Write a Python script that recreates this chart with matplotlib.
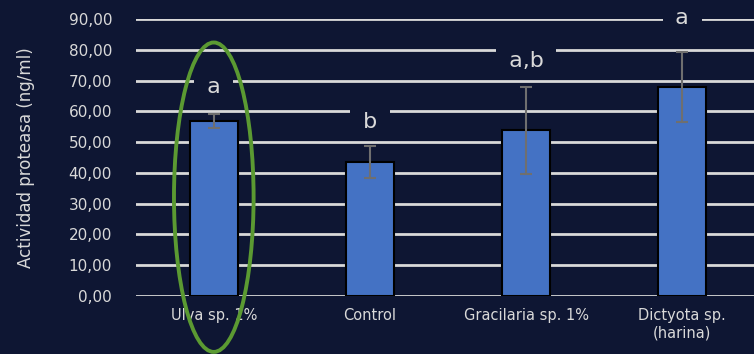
import numpy as np
import matplotlib.pyplot as plt
from matplotlib.patches import Ellipse

# datos
categorias = ["Ulva sp. 1%", "Control", "Gracilaria sp. 1%", "Dictyota sp.\n(harina)"]
actividad = [56.8, 43.6, 53.8, 68.0]
error = [2.3, 5.2, 14.2, 11.3]
letras = ["a", "b", "a,b", "a"]
pos_letras = [68.0, 56.5, 76.5, 90.3]
yticks = np.arange(0, 91, 10)

fondo = "#0e1633"
texto = "#d9d9d9"

fig = plt.figure(figsize=(7.54, 3.54), dpi=100, facecolor=fondo)
ax = fig.add_axes([0.18, 0.164, 0.82, 0.782], facecolor=fondo)

x = np.arange(len(categorias))
ax.set_axisbelow(True)
ax.yaxis.grid(True, color="#d9d9d9", linewidth=2)
ax.bar(x, actividad, width=0.31, color="#4472c4", edgecolor="black", linewidth=1.5, zorder=3)
ax.errorbar(x, actividad, yerr=error, fmt="none", ecolor="#6f6f6f",
            elinewidth=1.5, capsize=4, capthick=1.5, zorder=4)

for xi, (l, yl) in enumerate(zip(letras, pos_letras)):
    ax.text(xi, yl, " " + l + " ", ha="center", va="center", fontsize=16, color=texto,
            zorder=5, clip_on=False,
            bbox=dict(facecolor=fondo, edgecolor="none", pad=4))

ax.set_xlim(-0.5, 3.46)
ax.set_ylim(0, 90)
ax.set_yticks(yticks)
ax.set_yticklabels([f"{v:.2f}".replace(".", ",") for v in yticks])
ax.set_xticks(x)
ax.set_xticklabels(categorias)
ax.tick_params(axis="y", length=0, pad=17, labelsize=11, labelcolor=texto)
ax.tick_params(axis="x", length=0, pad=9, labelsize=10.5, labelcolor=texto)
for s in ax.spines.values():
    s.set_visible(False)

ax.set_ylabel("Actividad proteasa (ng/ml)", fontsize=12, color=texto, labelpad=24)

ax.add_patch(Ellipse((0, 32.1), 0.51, 100.6, fill=False, edgecolor="#5b9a32",
                     linewidth=2.8, clip_on=False, zorder=6))

fig.savefig("out.png", dpi=100, facecolor=fondo)
